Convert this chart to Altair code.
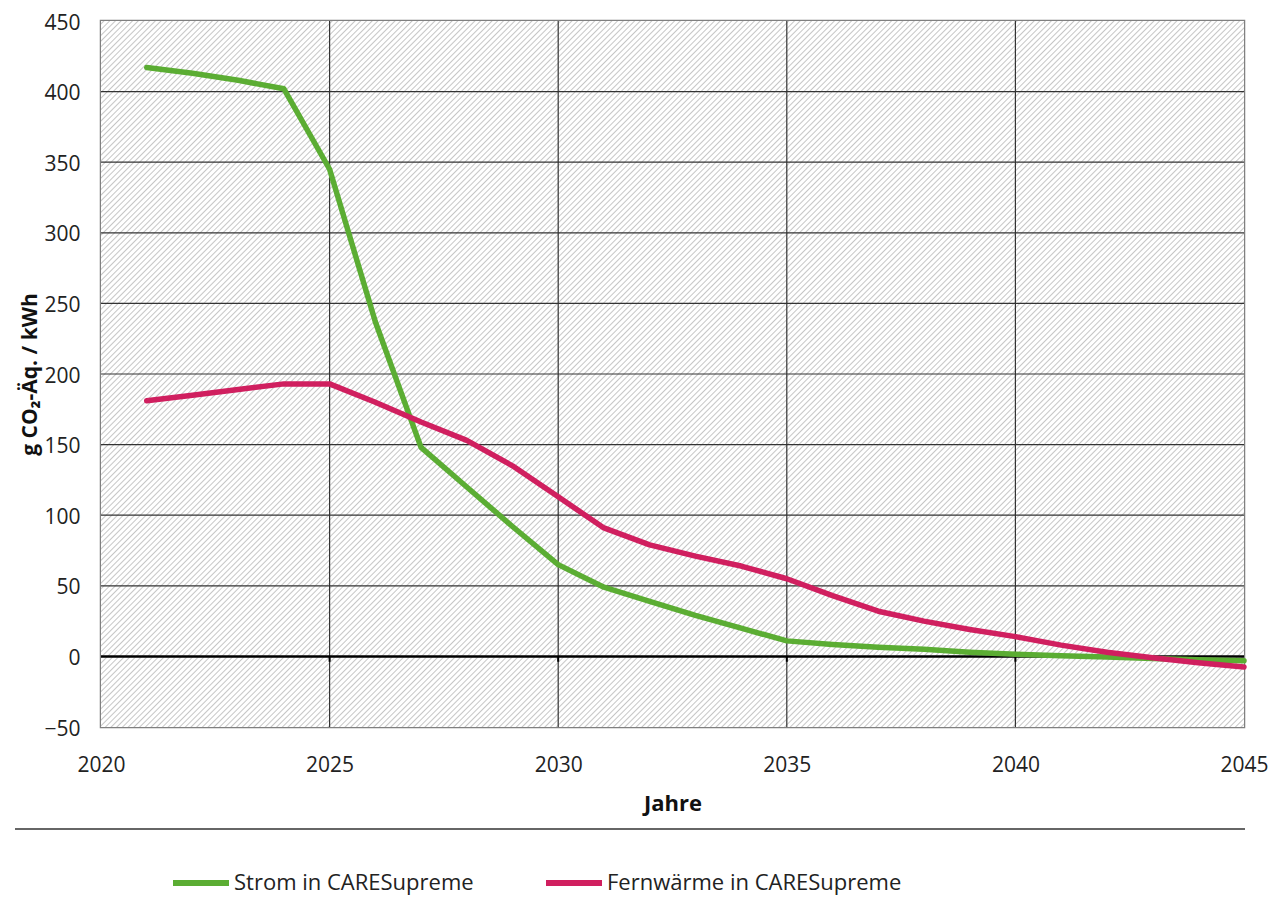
import altair as alt
import pandas as pd

# ---- data ----
years = list(range(2021, 2046))
strom = [417, 413, 408, 402, 345, 237, 148, 120, 92, 65, 49, 39, 29, 20, 11,
         8.5, 6.5, 5, 3, 1.5, 0.5, -0.5, -1.5, -2.3, -3]
fernwaerme = [181, 185, 189, 193, 193, 180, 166, 153, 135, 113, 91, 79, 71, 64, 55,
              43, 32, 25, 19, 14, 8, 3, -1, -4.5, -7.5]
series_names = ["Strom in CARESupreme", "Fernwärme in CARESupreme"]
series_colors = ["#5bad33", "#d01f5f"]
x_ticks = [2020, 2025, 2030, 2035, 2040, 2045]
y_ticks = [-50, 0, 50, 100, 150, 200, 250, 300, 350, 400, 450]
x_inner = [2025, 2030, 2035, 2040]
y_inner = [50, 100, 150, 200, 250, 300, 350, 400]

W, H = 1143, 706
FONT = "Open Sans"

df = pd.DataFrame({
    "Jahr": years * 2,
    "Wert": strom + fernwaerme,
    "Reihe": [series_names[0]] * len(years) + [series_names[1]] * len(years),
})

xscale = alt.Scale(domain=[2020, 2045], nice=False, zero=False)
yscale = alt.Scale(domain=[-50, 450], nice=False, zero=False)

x_axis = alt.Axis(values=x_ticks, format="d", title="Jahre", grid=False,
                  domain=False, ticks=False, tickSize=0, labelFlush=False,
                  labelOverlap=False, labelFont=FONT, labelFontSize=21,
                  labelColor="#222222", labelPadding=38, labelBaseline="middle",
                  titleFont=FONT, titleFontSize=22, titleFontWeight="bold",
                  titleColor="#111111", titleY=76, titleBaseline="middle")
y_axis = alt.Axis(values=y_ticks, title="g CO₂-Äq. / kWh", grid=False,
                  domain=False, ticks=False, tickSize=0, labelFlush=False,
                  labelOverlap=False, labelFont=FONT, labelFontSize=21,
                  labelColor="#222222", labelPadding=21,
                  labelBaseline="alphabetic", labelOffset=8,
                  titleFont=FONT, titleFontSize=21, titleFontWeight="bold",
                  titleColor="#111111", titleX=-71, titleY=H / 2,
                  titleAngle=270, titleAlign="center", titleBaseline="middle")

# hatch background as a striped linear gradient ("/" stripes)
r = H / W
a = (1 + r) / (1 + r * r)
N = int(round((W + H) / 5.7))
stops = []
for i in range(N):
    stops.append({"offset": i / N, "color": "#ffffff"})
    stops.append({"offset": (i + 0.22) / N, "color": "#ffffff"})
    stops.append({"offset": (i + 0.5) / N, "color": "#c6c6c6"})
    stops.append({"offset": (i + 0.78) / N, "color": "#ffffff"})
stops.append({"offset": 1.0, "color": "#ffffff"})
gradient = {"gradient": "linear", "x1": 0, "y1": 0, "x2": a, "y2": a * r, "stops": stops}

one = pd.DataFrame({"k": [0]})
hatch = alt.Chart(one).mark_rect(fill=gradient, strokeWidth=0).encode(
    x=alt.value(0), x2=alt.value("width"), y=alt.value(0), y2=alt.value("height")
)

hgrid = alt.Chart(pd.DataFrame({"Wert": y_inner})).mark_rule(
    color="#333333", strokeWidth=1.2
).encode(y=alt.Y("Wert:Q", scale=yscale, axis=y_axis))

vgrid = alt.Chart(pd.DataFrame({"Jahr": x_inner})).mark_rule(
    color="#333333", strokeWidth=1.2
).encode(x=alt.X("Jahr:Q", scale=xscale, axis=x_axis))

zero_line = alt.Chart(one).mark_rule(color="#000000", strokeWidth=2.5).encode(
    y=alt.datum(0)
)

zero_ticks = alt.Chart(pd.DataFrame({"Jahr": x_inner})).mark_rule(
    color="#000000", strokeWidth=2
).encode(
    x=alt.X("Jahr:Q", scale=xscale, axis=x_axis),
    y=alt.datum(0),
    y2=alt.datum(-3.8),
)

lines = alt.Chart(df).mark_line(strokeWidth=5.5, strokeCap="round", strokeJoin="round").encode(
    x=alt.X("Jahr:Q", scale=xscale, axis=x_axis),
    y=alt.Y("Wert:Q", scale=yscale, axis=y_axis),
    color=alt.Color("Reihe:N",
                    scale=alt.Scale(domain=series_names, range=series_colors),
                    legend=alt.Legend(title=None, orient="none", direction="horizontal",
                                      legendX=69, legendY=831, padding=0,
                                      symbolType="stroke", symbolStrokeWidth=6,
                                      symbolSize=3136, labelOffset=2, columnPadding=60,
                                      labelFont=FONT, labelFontSize=22,
                                      labelColor="#222222", labelLimit=400)),
)

separator = alt.Chart(one).mark_rule(color="#333333", strokeWidth=1.5).encode(
    x=alt.value(-86), x2=alt.value(1144), y=alt.value(808)
)

chart = alt.layer(hatch, hgrid, vgrid, zero_line, zero_ticks, lines, separator).properties(
    width=W, height=H,
    padding={"left": 93, "top": 13, "right": 30, "bottom": 171},
    autosize=alt.AutoSizeParams(type="none"),
).configure_view(stroke="#808080", strokeWidth=2.5, fill="#ffffff")

chart.save("out.html", embed_options={"renderer": "svg", "actions": False})
